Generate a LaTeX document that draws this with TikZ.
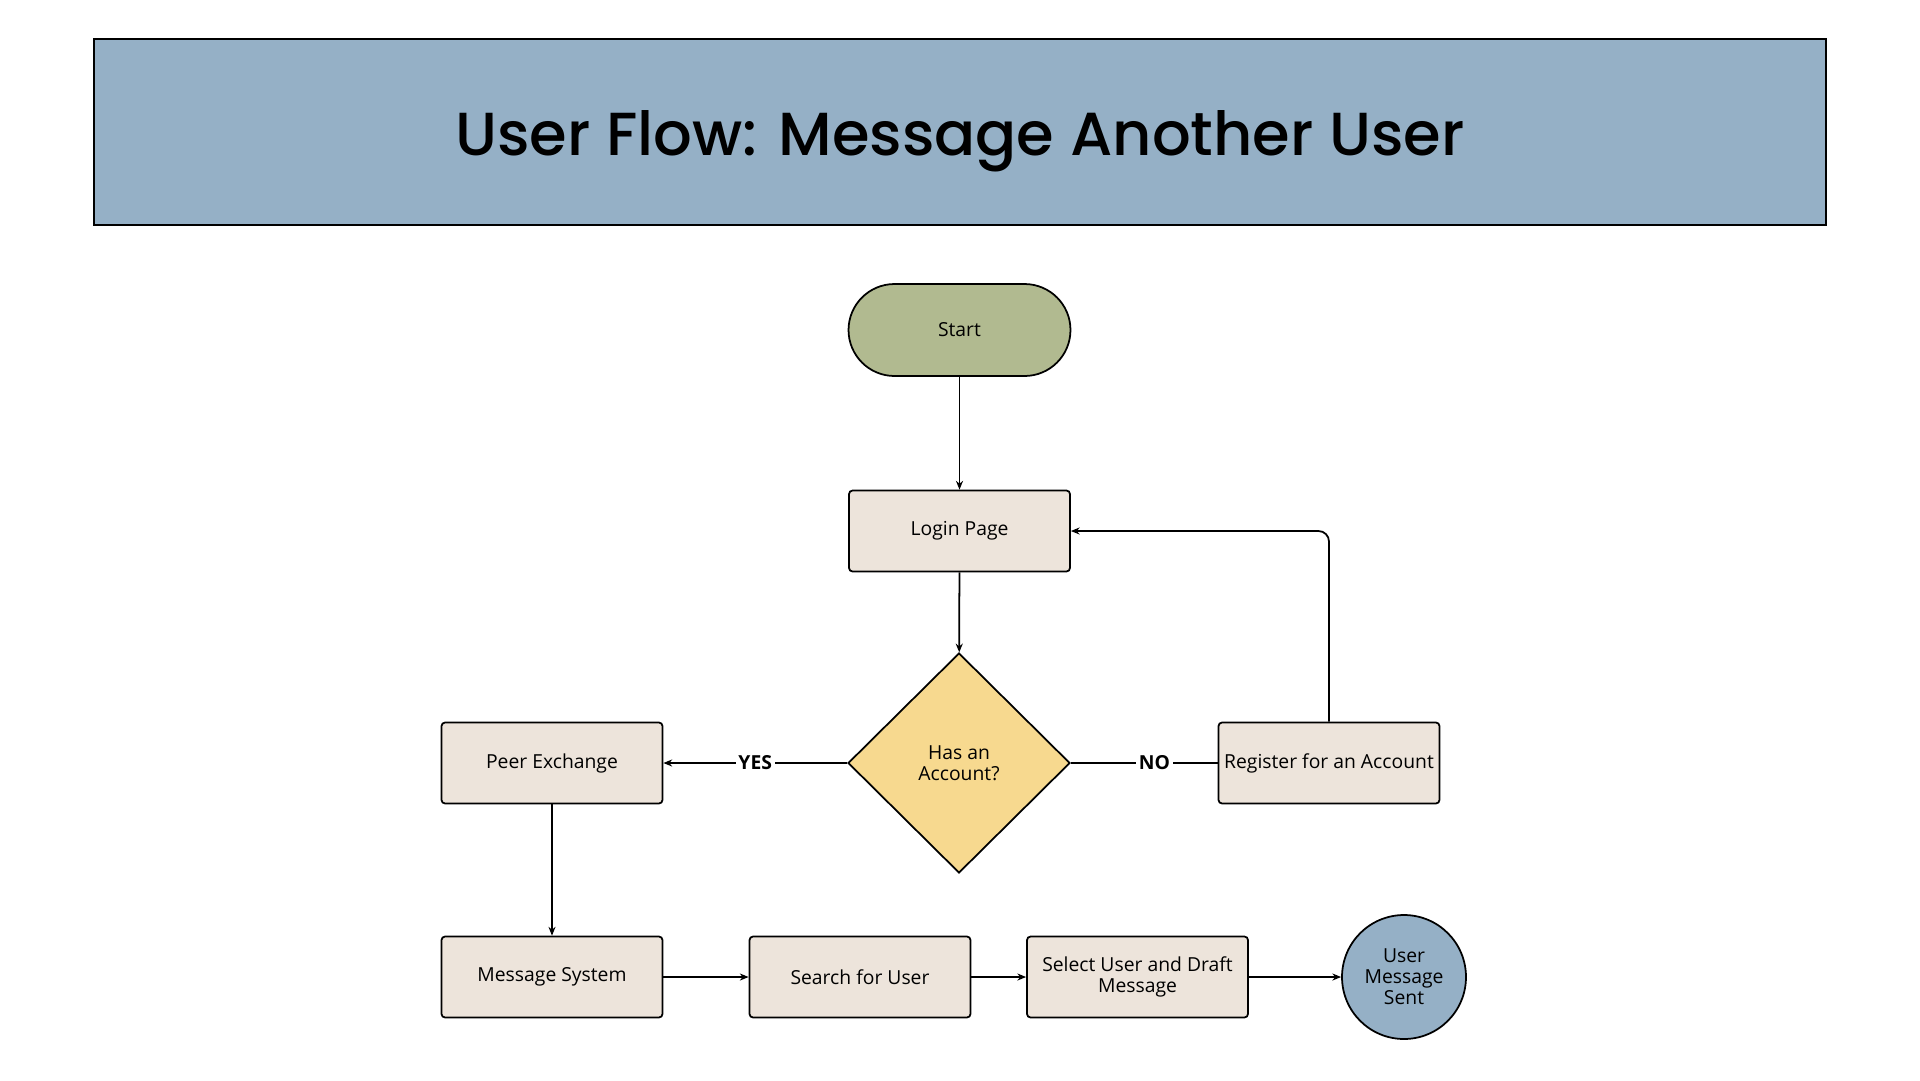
\documentclass[tikz,border=0pt]{standalone}
\usepackage{fontspec}
\setmainfont{Open Sans}
\newfontfamily\titlefont{Poppins Medium}
\usetikzlibrary{shapes.geometric}
\usetikzlibrary{positioning}
\usetikzlibrary{arrows.meta}
\definecolor{bannerblue}{RGB}{149,176,198}
\definecolor{startgreen}{RGB}{177,186,144}
\definecolor{boxbeige}{RGB}{237,228,219}
\definecolor{decyellow}{RGB}{247,217,143}
\tikzset{
    titlenode/.style = {rectangle, draw=black, line width=1pt, fill=bannerblue, minimum width=34.64cm, minimum height=3.72cm, text height=0.94cm, text depth=0pt, font=\titlefont\fontsize{34.6}{40}\selectfont, text=black},
    startnode/.style = {rectangle, rounded corners=0.92cm, draw=black, line width=1pt, fill=startgreen, minimum width=4.44cm, minimum height=1.84cm, align=center, font=\fontsize{11}{12}\selectfont},
    stepbox/.style = {rectangle, rounded corners=2pt, draw=black, line width=1pt, fill=boxbeige, minimum width=4.42cm, minimum height=1.62cm, align=center, inner sep=1pt, font=\fontsize{11}{12}\selectfont},
    decnode/.style = {diamond, aspect=1, draw=black, line width=1pt, fill=decyellow, minimum width=4.44cm, minimum height=4.4cm, align=center, font=\fontsize{11}{12}\selectfont},
    endnode/.style = {circle, draw=black, line width=1pt, fill=bannerblue, minimum size=2.48cm, align=center, inner sep=0pt, font=\fontsize{11}{12}\selectfont},
    edgea/.style = {-{Stealth[length=5pt,width=4pt]}, line width=1pt, black},
    edgen/.style = {-, line width=1pt, black},
    edgelab/.style = {fill=white, inner sep=1.5pt, font=\bfseries\fontsize{11}{12}\selectfont}
}

\begin{document}
\begin{tikzpicture}[x=0.02cm, y=-0.02cm]
  \useasboundingbox (0,0) rectangle (1920,1080);
  \node[titlenode] (title) at (960,132) {User Flow: Message Another User};

  \node[startnode] (start) at (959.5,330) {Start};
  \node[stepbox] (login) at (959.5,531) {Login Page};
  \node[decnode] (acct) at (959,763) {Has an\\Account?};
  \node[stepbox] (peer) at (552,763) {Peer Exchange};
  \node[stepbox] (reg) at (1329,763) {Register for an Account};
  \node[stepbox] (msgsys) at (552,977) {Message System};
  \node[stepbox] (search) at (860,977) {Search for User};
  \node[stepbox] (select) at (1137.5,977) {Select User and Draft\\Message};
  \node[endnode] (sent) at (1404,977) {User\\Message\\Sent};

  \draw[edgea] (start) -- (login);
  \draw[edgea] (login) -- (acct);
  \draw[edgea] (acct) -- node[edgelab] {YES} (peer);
  \draw[edgen] (acct) -- node[edgelab, pos=0.57] {NO} (reg);
  \draw[edgea, rounded corners=6pt] (reg.north) |- (login.east);
  \draw[edgea] (peer) -- (msgsys);
  \draw[edgea] (msgsys) -- (search);
  \draw[edgea] (search) -- (select);
  \draw[edgea] (select) -- (sent);
\end{tikzpicture}
\end{document}
